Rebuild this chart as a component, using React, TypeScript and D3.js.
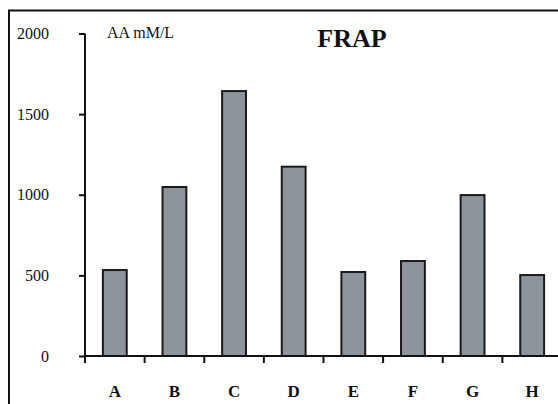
import { useRef, useEffect } from 'react'
import * as d3 from 'd3'

const categories = ['A', 'B', 'C', 'D', 'E', 'F', 'G', 'H']
const values = [533, 1048, 1643, 1174, 521, 589, 998, 502]
const yTicks = [0, 500, 1000, 1500, 2000]

const App = () => {
  const svgRef = useRef<SVGSVGElement>(null)

  useEffect(() => {
    const width = 558
    const height = 404
    const svg = d3.select(svgRef.current).attr('width', width).attr('height', height)
      .style('font-family', '"Liberation Serif", "Times New Roman", serif')
    svg.selectAll('*').remove()

    // outer frame
    svg.append('rect')
      .attr('x', 9).attr('y', 10.5)
      .attr('width', 700).attr('height', 600)
      .attr('fill', 'white').attr('stroke', '#111').attr('stroke-width', 2)

    const x = d3.scaleBand()
      .domain(categories)
      .range([85, 562])
      .paddingInner(0.6)
      .paddingOuter(0.3)

    const y = d3.scaleLinear().domain([0, 2000]).range([356, 33.5])

    // bars
    svg.append('g')
      .selectAll('rect')
      .data(values)
      .join('rect')
      .attr('x', (d, i) => x(categories[i])!)
      .attr('y', d => y(d))
      .attr('width', x.bandwidth())
      .attr('height', d => y(0) - y(d))
      .attr('fill', '#8d949c')
      .attr('stroke', '#1a1a1a')
      .attr('stroke-width', 2)

    // y axis
    svg.append('g')
      .attr('transform', 'translate(85,0)')
      .call(d3.axisLeft(y).tickValues(yTicks).tickFormat(d3.format('d')).tickSize(6).tickPadding(30).tickSizeOuter(0))
      .call(g => g.select('.domain').attr('stroke', '#111').attr('stroke-width', 2).attr('d', `M0,${y(2000)}V${y(0) + 7}`))
      .call(g => g.selectAll('.tick line').attr('stroke', '#111').attr('stroke-width', 2))
      .call(g => g.selectAll('.tick text')
        .attr('fill', '#111')
        .style('font-size', '16px')
        .style('font-family', '"Liberation Serif", serif'))

    // x axis
    const step = x.step()
    const bounds = d3.range(categories.length + 1).map(i => 85 + i * step)
    const xa = svg.append('g')
    xa.append('line')
      .attr('x1', 85).attr('x2', 570)
      .attr('y1', y(0)).attr('y2', y(0))
      .attr('stroke', '#111').attr('stroke-width', 2)
    xa.selectAll('line.tk')
      .data(bounds.slice(1))
      .join('line')
      .attr('class', 'tk')
      .attr('x1', d => d).attr('x2', d => d)
      .attr('y1', y(0)).attr('y2', y(0) + 7)
      .attr('stroke', '#111').attr('stroke-width', 2)
    xa.selectAll('text')
      .data(categories)
      .join('text')
      .attr('x', d => x(d)! + x.bandwidth() / 2)
      .attr('y', 397)
      .attr('text-anchor', 'middle')
      .attr('font-weight', 'bold')
      .attr('font-size', '17px')
      .attr('fill', '#111')
      .text(d => d)

    // unit label and title
    svg.append('text')
      .attr('x', 107).attr('y', 38)
      .attr('font-size', '16px')
      .attr('fill', '#111')
      .text('AA mM/L')

    svg.append('text')
      .attr('x', 352).attr('y', 47)
      .attr('text-anchor', 'middle')
      .attr('font-size', '26px')
      .attr('font-weight', 'bold')
      .attr('fill', '#111')
      .text('FRAP')
  }, [])

  return <svg ref={svgRef} style={{ position: 'absolute', left: 0, top: 0 }}></svg>
}

export default App
